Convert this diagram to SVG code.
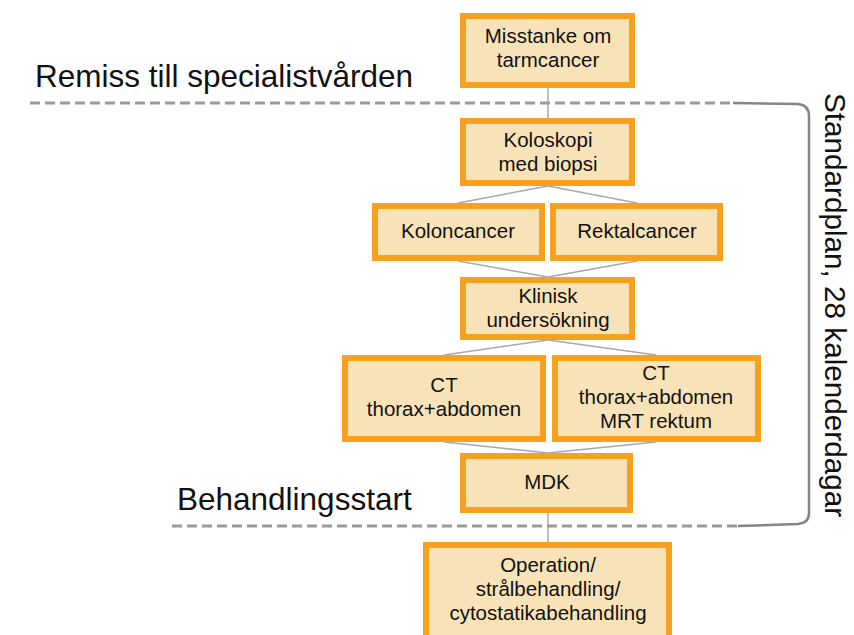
<svg xmlns="http://www.w3.org/2000/svg" width="854" height="635" viewBox="0 0 854 635">
<style>
.box{fill:#F8E3B9;stroke:#F8A11E;stroke-width:6}
.t{font-family:"Liberation Sans",Arial,sans-serif;font-size:20.5px;fill:#111;text-anchor:middle}
.big{font-family:"Liberation Sans",Arial,sans-serif;font-size:31.5px;fill:#111}
.conn{stroke:#A8A8A8;stroke-width:1.5;fill:none}
.dash{stroke:#9A9A9A;stroke-width:3;stroke-dasharray:10 5;fill:none}
</style>
<rect width="854" height="635" fill="#fff"/>
<g id="connectors">
<line class="conn" x1="548" y1="88" x2="548" y2="118"/>
<line class="conn" x1="548" y1="186" x2="458" y2="203"/>
<line class="conn" x1="548" y1="186" x2="637" y2="203"/>
<line class="conn" x1="458" y1="261" x2="548" y2="277"/>
<line class="conn" x1="637" y1="261" x2="548" y2="277"/>
<line class="conn" x1="548" y1="340" x2="444" y2="355"/>
<line class="conn" x1="548" y1="340" x2="656" y2="355"/>
<line class="conn" x1="444" y1="442" x2="548" y2="453"/>
<line class="conn" x1="656" y1="442" x2="548" y2="453"/>
<line class="conn" x1="548" y1="513" x2="548" y2="542"/>
</g>
<g id="markers">
<line class="dash" x1="30" y1="103" x2="735" y2="103"/>
<line class="dash" x1="172" y1="526" x2="740" y2="526"/>
<path d="M733,103 L798,104 Q809,105 809,116 L809,513 Q809,523 798,524 L738,526" fill="none" stroke="#858585" stroke-width="2.5"/>
<text class="big" x="35" y="87">Remiss till specialistvården</text>
<text class="big" x="177" y="510">Behandlingsstart</text>
<text class="big" style="font-size:29.7px" text-anchor="middle" transform="translate(825,305) rotate(90)">Standardplan, 28 kalenderdagar</text>
</g>
<g id="n1"><rect class="box" x="463" y="16" width="169" height="69"/><text class="t" x="548" y="43">Misstanke om</text><text class="t" x="548" y="67">tarmcancer</text></g>
<g id="n2"><rect class="box" x="463" y="121" width="169" height="62"/><text class="t" x="548" y="147">Koloskopi</text><text class="t" x="548" y="171">med biopsi</text></g>
<g id="n3"><rect class="box" x="375" y="206" width="167" height="52"/><text class="t" x="458" y="238">Koloncancer</text></g>
<g id="n4"><rect class="box" x="553" y="206" width="167" height="52"/><text class="t" x="637" y="238">Rektalcancer</text></g>
<g id="n5"><rect class="box" x="463" y="280" width="169" height="57"/><text class="t" x="548" y="303">Klinisk</text><text class="t" x="548" y="327">undersökning</text></g>
<g id="n6"><rect class="box" x="345" y="358" width="198" height="81"/><text class="t" x="444" y="392">CT</text><text class="t" x="444" y="416">thorax+abdomen</text></g>
<g id="n7"><rect class="box" x="555" y="358" width="203" height="81"/><text class="t" x="656" y="380">CT</text><text class="t" x="656" y="404">thorax+abdomen</text><text class="t" x="656" y="428">MRT rektum</text></g>
<g id="n8"><rect class="box" x="463" y="456" width="167" height="54"/><text class="t" x="547" y="489">MDK</text></g>
<g id="n9"><rect class="box" x="426" y="545" width="243" height="100"/><text class="t" x="548" y="572">Operation/</text><text class="t" x="548" y="596">strålbehandling/</text><text class="t" x="548" y="620">cytostatikabehandling</text></g>
</svg>
